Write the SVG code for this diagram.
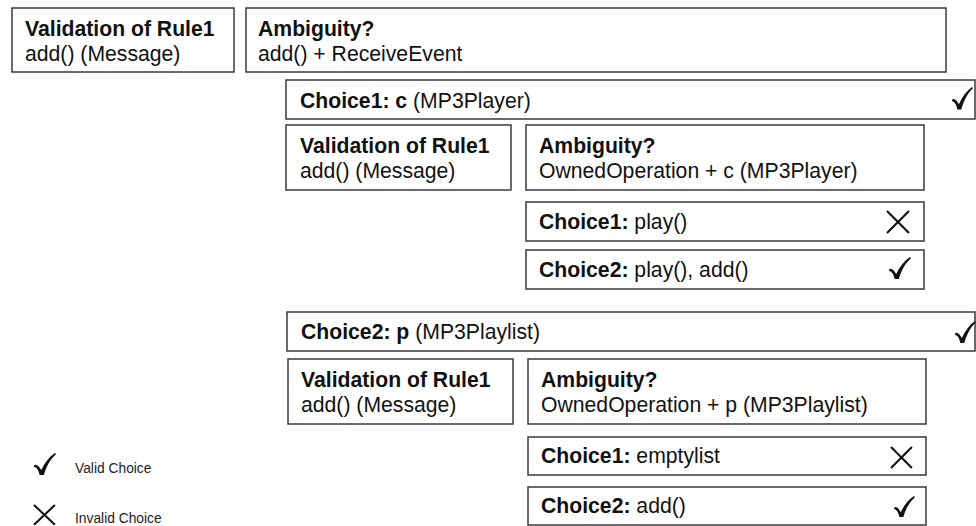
<svg xmlns="http://www.w3.org/2000/svg" width="976" height="526" viewBox="0 0 976 526">
  <defs>
    <style>
      .box { fill: #ffffff; stroke: #3a3a3a; stroke-width: 1.5; }
      .t { font-family: "Liberation Sans", Arial, sans-serif; font-size: 21.2px; fill: #111; }
      .b { font-weight: bold; }
      .legend { font-family: "Liberation Sans", Arial, sans-serif; font-size: 13.8px; fill: #222; }
      .cross { stroke: #111; stroke-width: 2.2; fill: none; }
      .tick { fill: #111; }
    </style>
    <!-- heavy check mark, drawn in a 22 x 22 cell -->
    <path id="check" d="M0,12.5 C1.5,11 3.5,11.5 5.5,14.5 L7.2,17 C10.5,10 15,4 21,0 L22,1.2 C16.5,6 12.5,13 9.8,22 L5.6,22 C4.8,18 3,14.5 0,13.8 Z"/>
    <!-- cross mark, drawn in a 22 x 22 cell -->
    <g id="cross"><line x1="0" y1="0" x2="22" y2="22"/><line x1="22" y1="0" x2="0" y2="22"/></g>
  </defs>

  <!-- top level -->
  <g id="validation-top">
    <rect class="box" x="12" y="8" width="222" height="64"/>
    <text class="t b" x="25" y="36">Validation of Rule1</text>
    <text class="t" x="25" y="61">add() (Message)</text>
  </g>
  <g id="ambiguity-top">
    <rect class="box" x="246" y="8" width="700" height="64"/>
    <text class="t b" x="258" y="36">Ambiguity?</text>
    <text class="t" x="258" y="61">add() + ReceiveEvent</text>
  </g>

  <!-- branch: Choice1 c -->
  <g id="choice1-c">
    <rect class="box" x="286" y="80" width="689" height="39"/>
    <text class="t" x="300" y="108"><tspan class="b">Choice1: c</tspan> (MP3Player)</text>
    <use href="#check" class="tick" transform="translate(952,87) scale(0.95,1.02)"/>
  </g>
  <g id="validation-c">
    <rect class="box" x="286" y="125" width="225" height="65"/>
    <text class="t b" x="300" y="153">Validation of Rule1</text>
    <text class="t" x="300" y="178">add() (Message)</text>
  </g>
  <g id="ambiguity-c">
    <rect class="box" x="526" y="125" width="398" height="65"/>
    <text class="t b" x="539" y="153">Ambiguity?</text>
    <text class="t" x="539" y="178">OwnedOperation + c (MP3Player)</text>
  </g>
  <g id="choice1-play">
    <rect class="box" x="526" y="202" width="398" height="39"/>
    <text class="t" x="539" y="229"><tspan class="b">Choice1:</tspan> play()</text>
    <use href="#cross" class="cross" transform="translate(887,211)"/>
  </g>
  <g id="choice2-play-add">
    <rect class="box" x="526" y="250" width="398" height="39"/>
    <text class="t" x="539" y="277"><tspan class="b">Choice2:</tspan> play(), add()</text>
    <use href="#check" class="tick" transform="translate(889,257)"/>
  </g>

  <!-- branch: Choice2 p -->
  <g id="choice2-p">
    <rect class="box" x="287" y="312" width="688" height="39"/>
    <text class="t" x="301" y="339"><tspan class="b">Choice2: p</tspan> (MP3Playlist)</text>
    <use href="#check" class="tick" transform="translate(955,321) scale(0.95,1)"/>
  </g>
  <g id="validation-p">
    <rect class="box" x="288" y="359" width="225" height="65"/>
    <text class="t b" x="301" y="387">Validation of Rule1</text>
    <text class="t" x="301" y="412">add() (Message)</text>
  </g>
  <g id="ambiguity-p">
    <rect class="box" x="528" y="359" width="398" height="65"/>
    <text class="t b" x="541" y="387">Ambiguity?</text>
    <text class="t" x="541" y="412">OwnedOperation + p (MP3Playlist)</text>
  </g>
  <g id="choice1-emptylist">
    <rect class="box" x="528" y="437" width="398" height="38"/>
    <text class="t" x="541" y="463"><tspan class="b">Choice1:</tspan> emptylist</text>
    <use href="#cross" class="cross" transform="translate(891,447) scale(0.95)"/>
  </g>
  <g id="choice2-add">
    <rect class="box" x="528" y="487" width="398" height="38"/>
    <text class="t" x="541" y="513"><tspan class="b">Choice2:</tspan> add()</text>
    <use href="#check" class="tick" transform="translate(894,496) scale(0.95)"/>
  </g>

  <!-- legend -->
  <g id="legend">
    <use href="#check" class="tick" transform="translate(34,453) scale(1,1)"/>
    <text class="legend" x="75" y="473">Valid Choice</text>
    <use href="#cross" class="cross" transform="translate(34,505) scale(0.95,0.9)"/>
    <text class="legend" x="75" y="523">Invalid Choice</text>
  </g>
</svg>
